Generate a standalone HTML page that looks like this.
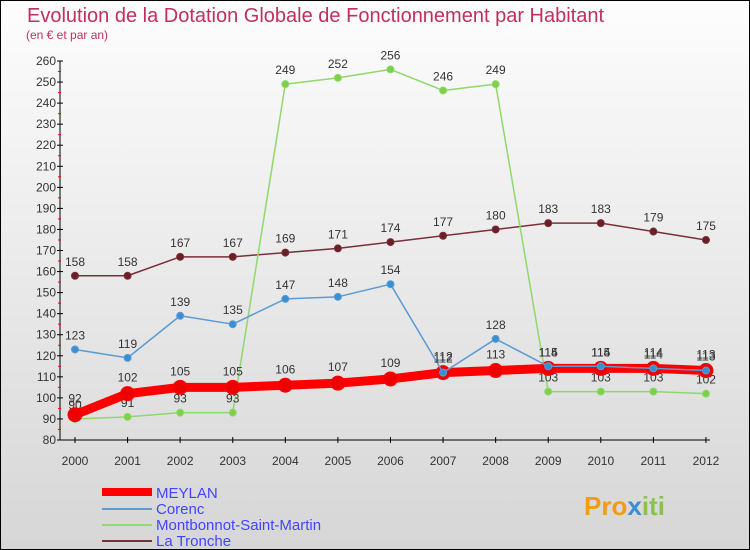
<!DOCTYPE html>
<html><head><meta charset="utf-8"><style>
body{margin:0;width:750px;height:550px;overflow:hidden;font-family:"Liberation Sans",sans-serif}
#c{position:absolute;left:0;top:0;width:748px;height:548px;border:1px solid #000;background:linear-gradient(#fdfdfd,#d6d6d6)}
</style></head><body>
<div id="c">
<svg id="s" width="750" height="550" style="position:absolute;left:-1px;top:-1px">
<text x="27" y="22" font-size="20" fill="#c0305a">Evolution de la Dotation Globale de Fonctionnement par Habitant</text>
<text x="26" y="39" font-size="12" fill="#c0305a">(en € et par an)</text>
<g id="ax"></g><g id="ser"></g>
<g font-size="15">
<line x1="102" y1="492" x2="152" y2="492" stroke="#f00" stroke-width="8"/><text x="156" y="498" fill="#44f">MEYLAN</text>
<line x1="102" y1="509" x2="152" y2="509" stroke="#5b9bd5" stroke-width="2"/><text x="156" y="514" fill="#44f">Corenc</text>
<line x1="102" y1="525" x2="152" y2="525" stroke="#8fd86a" stroke-width="2"/><text x="156" y="530" fill="#44f">Montbonnot-Saint-Martin</text>
<line x1="102" y1="541" x2="152" y2="541" stroke="#7a3038" stroke-width="2"/><text x="156" y="546" fill="#44f">La Tronche</text>
</g>
<text x="584" y="515" font-size="26" font-weight="bold" fill="#f39c12">Pro<tspan fill="#3a8fd0">x</tspan><tspan fill="#8bc34a">iti</tspan></text>
</svg></div>
<script>
const years=[2000,2001,2002,2003,2004,2005,2006,2007,2008,2009,2010,2011,2012];
const meylan=[92,102,105,105,106,107,109,112,113,114,114,114,113];
const corenc=[123,119,139,135,147,148,154,112,128,115,115,114,113];
const montbonnot=[90,91,93,93,249,252,256,246,249,103,103,103,102];
const tronche=[158,158,167,167,169,171,174,177,180,183,183,179,175];
const yTicks=[80,90,100,110,120,130,140,150,160,170,180,190,200,210,220,230,240,250,260];
const NS="http://www.w3.org/2000/svg";
const X=i=>75+i*52.58, Y=v=>440-(v-80)*(379/180);
function mk(p,t,a){const e=document.createElementNS(NS,t);for(const k in a)e.setAttribute(k,a[k]);p.appendChild(e);return e;}
const ax=document.getElementById('ax'),ser=document.getElementById('ser');
let e=mk(ax,'line',{x1:60,y1:Y(260),x2:60,y2:440,stroke:'#000'});


e=mk(ax,'line',{x1:60,y1:440,x2:710,y2:440,stroke:'#000'});


yTicks.forEach(v=>{mk(ax,'line',{x1:57,x2:63,y1:Y(v),y2:Y(v),stroke:'#000'});
 if(v<260)mk(ax,'line',{x1:58,x2:61,y1:Y(v+5),y2:Y(v+5),stroke:'#f00'});
 const t=mk(ax,'text',{x:56,y:Y(v)+4,'font-size':12,fill:'#333','text-anchor':'end'});t.textContent=v;
 
 });
years.forEach((y,i)=>{mk(ax,'line',{x1:X(i),x2:X(i),y1:437,y2:443,stroke:'#000'});
 const t=mk(ax,'text',{x:X(i),y:465,'font-size':12,fill:'#333','text-anchor':'middle'});t.textContent=y;
 
 });
function series(d,name,col,w,r,fill,dy){
 const g=mk(ser,'g',{});
 
 
 mk(g,'polyline',{points:d.map((v,i)=>X(i)+','+Y(v)).join(' '),fill:'none',stroke:col,'stroke-width':w,'stroke-linejoin':'round'});
 d.forEach((v,i)=>{const c=mk(g,'circle',{cx:X(i),cy:Y(v),r:r,fill:fill,stroke:col,'stroke-width':1});
  
  
  const t=mk(g,'text',{x:X(i),y:Y(v)+dy(v,i),'font-size':12,fill:'#333','text-anchor':'middle'});t.textContent=v;
  
  });
}
series(tronche,'la-tronche','#7a3038',1.5,3.5,'#6a1f28',()=>-10);
series(montbonnot,'montbonnot','#8fd86a',1.5,3.5,'#7ed04a',(v,i)=>i>=9?-10:(i<4&&i>0?-10:-10));
series(meylan,'meylan','#f00',9,7,'#e00',()=>-12);
series(corenc,'corenc','#5b9bd5',1.5,3.5,'#3a8fd0',()=>-10);
</script>
</body></html>
